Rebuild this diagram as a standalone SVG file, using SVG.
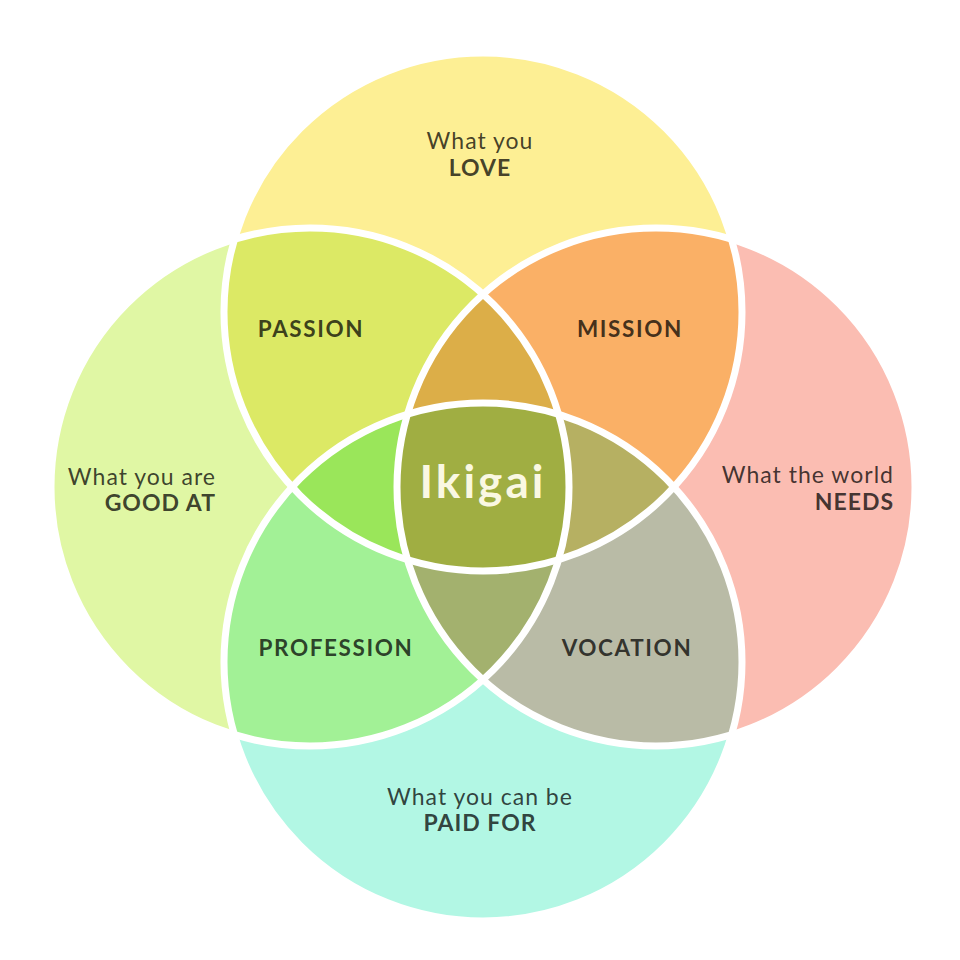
<svg xmlns="http://www.w3.org/2000/svg" width="960" height="960" viewBox="0 0 960 960">
<style>
.t{font-family:Lato,"Open Sans","Liberation Sans",sans-serif;fill:#000;fill-opacity:.74;font-size:23px;letter-spacing:1px}
.b{font-weight:700}
.lbl{font-family:Lato,"Open Sans","Liberation Sans",sans-serif;fill:#000;fill-opacity:.74;font-size:22.5px;font-weight:700;letter-spacing:1.6px;text-anchor:middle}
.c{text-anchor:middle}
.e{text-anchor:end}
.ring{fill:none;stroke:#fff;stroke-width:7}
</style>
<defs>
<clipPath id="cT"><circle cx="483" cy="312" r="259"/></clipPath>
<clipPath id="cB"><circle cx="483" cy="662" r="259"/></clipPath>
<clipPath id="cL"><circle cx="310" cy="487" r="259"/></clipPath>
<clipPath id="cR"><circle cx="656" cy="487" r="259"/></clipPath>
</defs>
<rect width="960" height="960" fill="#fff"/>
<g id="love"><circle cx="483" cy="312" r="259" fill="#FDEF94"/></g>
<g id="good-at"><circle cx="310" cy="487" r="259" fill="#E0F7A4"/></g>
<g id="needs"><circle cx="656" cy="487" r="259" fill="#FBBDB2"/></g>
<g id="paid-for"><circle cx="483" cy="662" r="259" fill="#B2F7E4"/></g>
<g id="passion" clip-path="url(#cT)"><circle cx="310" cy="487" r="259" fill="#DCE965"/></g>
<g id="mission" clip-path="url(#cT)"><circle cx="656" cy="487" r="259" fill="#FAB066"/></g>
<g id="profession" clip-path="url(#cB)"><circle cx="310" cy="487" r="259" fill="#A2F196"/></g>
<g id="vocation" clip-path="url(#cB)"><circle cx="656" cy="487" r="259" fill="#B9BBA6"/></g>
<g id="tlr" clip-path="url(#cT)"><g clip-path="url(#cL)"><circle cx="656" cy="487" r="259" fill="#DCAE48"/></g></g>
<g id="tlb" clip-path="url(#cT)"><g clip-path="url(#cL)"><circle cx="483" cy="662" r="259" fill="#9AE65A"/></g></g>
<g id="trb" clip-path="url(#cT)"><g clip-path="url(#cR)"><circle cx="483" cy="662" r="259" fill="#B6B062"/></g></g>
<g id="blr" clip-path="url(#cB)"><g clip-path="url(#cL)"><circle cx="656" cy="487" r="259" fill="#A3B16E"/></g></g>
<g id="ikigai" clip-path="url(#cT)"><g clip-path="url(#cB)"><g clip-path="url(#cL)"><circle cx="656" cy="487" r="259" fill="#A0AE42"/></g></g></g>
<g id="outlines">
<circle class="ring" cx="483" cy="312" r="259"/>
<circle class="ring" cx="310" cy="487" r="259"/>
<circle class="ring" cx="656" cy="487" r="259"/>
<circle class="ring" cx="483" cy="662" r="259"/>
</g>
<g id="labels">
<text class="t c" x="480" y="149">What you</text>
<text class="t b c" x="480" y="176">LOVE</text>
<text class="t e" x="216" y="485">What you are</text>
<text class="t b e" x="216" y="511">GOOD AT</text>
<text class="t e" x="894" y="483">What the world</text>
<text class="t b e" x="894" y="510">NEEDS</text>
<text class="t c" x="480" y="805">What you can be</text>
<text class="t b c" x="480" y="831">PAID FOR</text>
<text class="lbl" x="311" y="337">PASSION</text>
<text class="lbl" x="630" y="337">MISSION</text>
<text class="lbl" x="336" y="656">PROFESSION</text>
<text class="lbl" x="627" y="656">VOCATION</text>
<text x="483" y="498" text-anchor="middle" font-family="Lato,'Open Sans','Liberation Sans',sans-serif" font-size="46" font-weight="700" letter-spacing="3" fill="#FAF8E2">Ikigai</text>
</g>
</svg>
